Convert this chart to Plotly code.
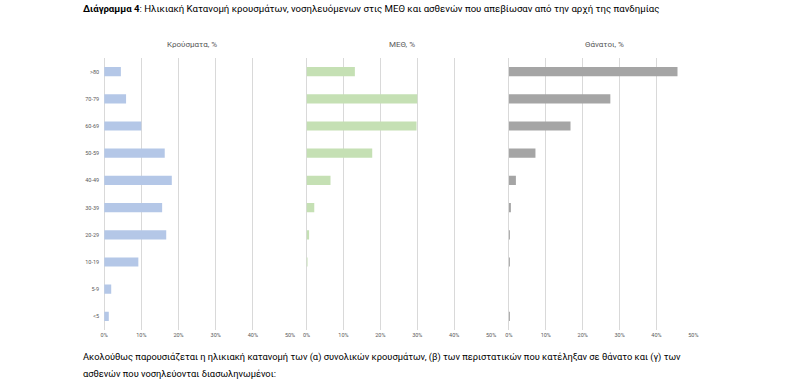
import plotly.graph_objects as go

age_groups = ["<5", "5-9", "10-19", "20-29", "30-39", "40-49", "50-59", "60-69", "70-79", ">80"]
cases_pct = [1.25, 1.9, 9.2, 16.7, 15.6, 18.2, 16.3, 10.0, 5.9, 4.5]
icu_pct = [0.0, 0.0, 0.15, 0.7, 2.1, 6.5, 17.8, 29.8, 30.0, 13.1]
deaths_pct = [0.03, 0.0, 0.05, 0.1, 0.5, 1.9, 7.2, 16.7, 27.5, 45.7]
panel_titles = ["Κρούσματα, %", "ΜΕΘ, %", "Θάνατοι, %"]
x_ticks = [0, 0.1, 0.2, 0.3, 0.4, 0.5]
x_tick_labels = ["0%", "10%", "20%", "30%", "40%", "50%"]

title_bold = "Διάγραμμα 4"
title_rest = ": Ηλικιακή Κατανομή κρουσμάτων, νοσηλευόμενων στις ΜΕΘ και ασθενών που απεβίωσαν από την αρχή της πανδημίας"
footer_1 = "Ακολούθως παρουσιάζεται η ηλικιακή κατανομή των (α) συνολικών κρουσμάτων, (β) των περιστατικών που κατέληξαν σε θάνατο και (γ) των"
footer_2 = "ασθενών που νοσηλεύονται διασωληνωμένοι:"

W, H = 791, 382
colors = ["#b4c7e7", "#c5e0b4", "#a5a5a5"]
series = [cases_pct, icu_pct, deaths_pct]
x_px = [(101.3, 289.3), (306.0, 492.7), (510.7, 697.3)]
title_x_px = [190, 403, 607]
y_top, y_bot = 58, 330

FONT = "Roboto, Liberation Sans, sans-serif"

fig = go.Figure()
for i, (vals, col) in enumerate(zip(series, colors)):
    xa = "x" if i == 0 else f"x{i+1}"
    ya = "y" if i == 0 else f"y{i+1}"
    fig.add_trace(go.Bar(
        y=age_groups, x=[v / 100 for v in vals], orientation="h",
        marker=dict(color=col, line=dict(width=0)), width=0.34,
        xaxis=xa, yaxis=ya, showlegend=False, hoverinfo="skip",
    ))
    lay_x = "xaxis" if i == 0 else f"xaxis{i+1}"
    lay_y = "yaxis" if i == 0 else f"yaxis{i+1}"
    fig.layout[lay_x] = dict(
        domain=[x_px[i][0] / W, x_px[i][1] / W], range=[0, 0.5],
        tickvals=x_ticks, ticktext=x_tick_labels,
        showgrid=True, gridcolor="#d9d9d9", gridwidth=1,
        zeroline=True, zerolinecolor="#d9d9d9", zerolinewidth=1,
        showline=False, ticks="", anchor=ya,
        tickfont=dict(size=5.5, color="#595959", family=FONT),
        fixedrange=True,
    )
    fig.layout[lay_y] = dict(
        domain=[1 - y_bot / H, 1 - y_top / H],
        categoryorder="array", categoryarray=age_groups,
        range=[-0.5, 9.5], showgrid=False, zeroline=False, showline=False,
        showticklabels=(i == 0), ticks="", ticklabelstandoff=4,
        tickfont=dict(size=5.5, color="#595959", family=FONT),
        anchor=xa, fixedrange=True,
    )
    fig.add_annotation(
        x=title_x_px[i] / W, y=1 - 44 / H, xref="paper", yref="paper",
        text=panel_titles[i], showarrow=False, xanchor="center", yanchor="middle",
        font=dict(size=8, color="#595959", family=FONT),
    )

fig.add_annotation(
    x=78 / W, y=1 - 8 / H, xref="paper", yref="paper",
    text=f"<b>{title_bold}</b>{title_rest}", showarrow=False,
    xanchor="left", yanchor="middle",
    font=dict(size=9.65, color="#000000", family=FONT),
)
fig.add_annotation(
    x=78 / W, y=1 - 357 / H, xref="paper", yref="paper",
    text=footer_1, showarrow=False, xanchor="left", yanchor="middle",
    font=dict(size=9.3, color="#000000", family=FONT),
)
fig.add_annotation(
    x=78 / W, y=1 - 373 / H, xref="paper", yref="paper",
    text=footer_2, showarrow=False, xanchor="left", yanchor="middle",
    font=dict(size=9.3, color="#000000", family=FONT),
)

fig.update_layout(
    width=W, height=H, margin=dict(l=0, r=0, t=0, b=0),
    paper_bgcolor="white", plot_bgcolor="white",
)
fig.write_html("out.html", config={"displayModeBar": False},
               post_script="document.body.style.margin='0';document.body.style.overflow='hidden';")
